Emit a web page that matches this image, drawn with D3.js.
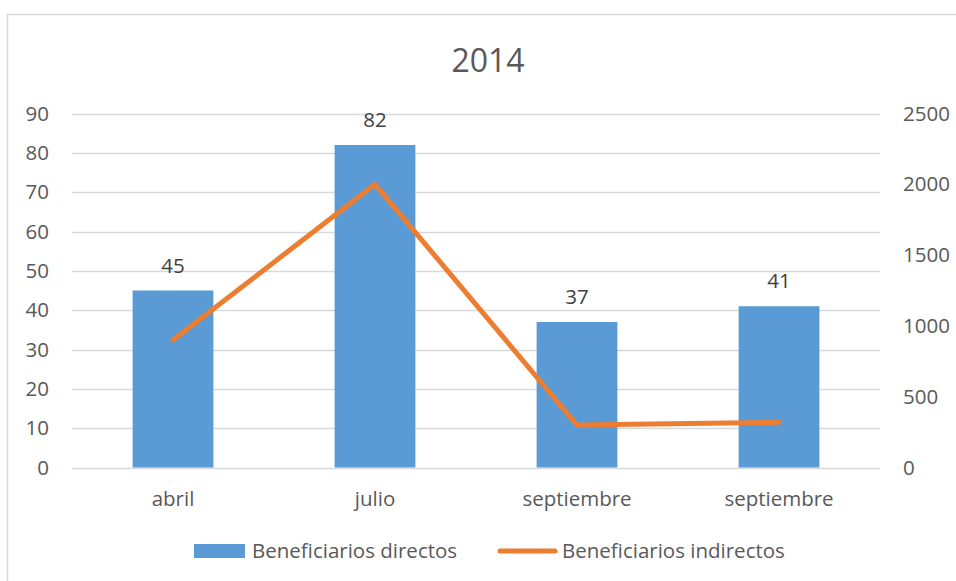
<!DOCTYPE html>
<html>
<head>
<meta charset="utf-8">
<script src="https://cdn.jsdelivr.net/npm/d3@7"></script>
<style>
    body { margin: 0; background: #fff; }
    text { font-family: "Open Sans", sans-serif; }
</style>
</head>
<body>
<script>
//chart data
var months = ["abril", "julio", "septiembre", "septiembre"];
var directos = [45, 82, 37, 41];
var indirectos = [900, 2000, 300, 320];
var leftTicks = [0, 10, 20, 30, 40, 50, 60, 70, 80, 90];
var rightTicks = [0, 500, 1000, 1500, 2000, 2500];

window.onload = drawChart();

function drawChart(){
    var width = 956,
        height = 581;

    var svg = d3.select("body")
        .append("svg")
        .attr("width", width)
        .attr("height", height);

    //chart frame (cut off at right and bottom)
    svg.append("rect")
        .attr("x", 7.5)
        .attr("y", 14.5)
        .attr("width", 1200)
        .attr("height", 1200)
        .attr("fill", "none")
        .attr("stroke", "#d9d9d9")
        .attr("stroke-width", 1.5);

    //plot area
    var left = 72, right = 880, top = 113.5, bottom = 467.5;

    var x = d3.scaleBand()
        .domain(d3.range(months.length))
        .range([left, right])
        .paddingInner(0.6)
        .paddingOuter(0.3);

    var y = d3.scaleLinear().domain([0, 90]).range([bottom, top]);
    var y2 = d3.scaleLinear().domain([0, 2500]).range([bottom, top]);

    //title
    svg.append("text")
        .attr("x", 488)
        .attr("y", 72)
        .attr("text-anchor", "middle")
        .attr("font-size", 32)
        .attr("fill", "#595959")
        .text("2014");

    //gridlines
    svg.selectAll(".grid")
        .data(leftTicks)
        .enter()
        .append("line")
        .attr("class", "grid")
        .attr("x1", left)
        .attr("x2", right)
        .attr("y1", function(d){ return Math.round(y(d)) + 0.5; })
        .attr("y2", function(d){ return Math.round(y(d)) + 0.5; })
        .attr("stroke", "#d9d9d9")
        .attr("stroke-width", 1.3);

    //left axis
    var leftAxis = svg.append("g")
        .attr("transform", "translate(" + left + ",0)")
        .call(d3.axisLeft(y).tickValues(leftTicks).tickSize(0).tickPadding(23));
    leftAxis.select(".domain").remove();

    //right axis
    var rightAxis = svg.append("g")
        .attr("transform", "translate(" + right + ",0)")
        .call(d3.axisRight(y2).tickValues(rightTicks).tickFormat(d3.format("d")).tickSize(0).tickPadding(23));
    rightAxis.select(".domain").remove();

    //x axis labels
    var xAxis = svg.append("g")
        .attr("transform", "translate(0," + bottom + ")")
        .call(d3.axisBottom(x).tickFormat(function(i){ return months[i]; }).tickSize(0).tickPadding(24));
    xAxis.select(".domain").remove();

    svg.selectAll(".tick text")
        .attr("font-family", "Open Sans, sans-serif")
        .attr("font-size", 20.5)
        .attr("fill", "#595959");

    //bars
    svg.selectAll(".bar")
        .data(directos)
        .enter()
        .append("rect")
        .attr("class", "bar")
        .attr("x", function(d, i){ return x(i); })
        .attr("width", x.bandwidth())
        .attr("y", function(d){ return y(d); })
        .attr("height", function(d){ return bottom - y(d); })
        .attr("fill", "#5b9bd5");

    //bar value labels
    svg.selectAll(".barlabel")
        .data(directos)
        .enter()
        .append("text")
        .attr("class", "barlabel")
        .attr("x", function(d, i){ return x(i) + x.bandwidth() / 2; })
        .attr("y", function(d){ return y(d) - 18; })
        .attr("text-anchor", "middle")
        .attr("font-size", 20.5)
        .attr("fill", "#404040")
        .text(function(d){ return d; });

    //line
    var line = d3.line()
        .x(function(d, i){ return x(i) + x.bandwidth() / 2; })
        .y(function(d){ return y2(d); });

    svg.append("path")
        .datum(indirectos)
        .attr("d", line)
        .attr("fill", "none")
        .attr("stroke", "#ed7d31")
        .attr("stroke-width", 5)
        .attr("stroke-linejoin", "round")
        .attr("stroke-linecap", "round");

    //legend
    var legend = svg.append("g");
    legend.append("rect")
        .attr("x", 194)
        .attr("y", 544)
        .attr("width", 51)
        .attr("height", 14)
        .attr("fill", "#5b9bd5");
    legend.append("text")
        .attr("x", 252)
        .attr("y", 558)
        .attr("font-size", 20.5)
        .attr("fill", "#595959")
        .text("Beneficiarios directos");
    legend.append("line")
        .attr("x1", 500)
        .attr("x2", 555)
        .attr("y1", 551)
        .attr("y2", 551)
        .attr("stroke", "#ed7d31")
        .attr("stroke-width", 5)
        .attr("stroke-linecap", "round");
    legend.append("text")
        .attr("x", 562)
        .attr("y", 558)
        .attr("font-size", 20.5)
        .attr("fill", "#595959")
        .text("Beneficiarios indirectos");
};
</script>
</body>
</html>
